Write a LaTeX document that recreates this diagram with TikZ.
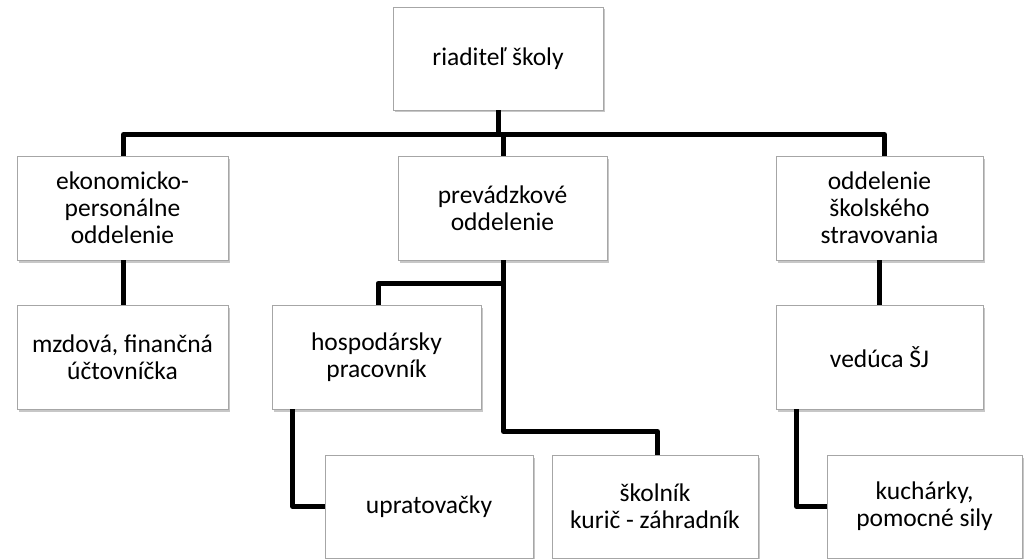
\documentclass[tikz,border=0pt]{standalone}
\usepackage{fontspec}
\setmainfont{Carlito}
\usetikzlibrary{shadows}
\definecolor{boxline}{HTML}{A6A6A6}
\tikzset{
  box/.style={draw=boxline, line width=0.8pt, fill=white, align=center,
    inner sep=0pt, font=\fontsize{25.5}{27}\selectfont,
    drop shadow={shadow xshift=1.5pt, shadow yshift=-2.5pt, fill=black, opacity=0.22}},
  conn/.style={line width=5pt, black, line join=round}
}
\begin{document}
\begin{tikzpicture}[x=1pt,y=-1pt]
\useasboundingbox (0,0) rectangle (1030,559);
% nodes
\node[box, minimum width=210pt, minimum height=103pt] (top) at (498,58.5) {riaditeľ školy};
\node[box, minimum width=211pt, minimum height=104pt] (eko) at (122.5,208) {ekonomicko-\\personálne\\oddelenie};
\node[box, minimum width=209pt, minimum height=104pt] (prev) at (502.5,208) {prevádzkové\\oddelenie};
\node[box, minimum width=207pt, minimum height=104pt] (odd) at (879.5,208) {oddelenie\\školského\\stravovania};
\node[box, minimum width=211pt, minimum height=104pt] (mzd) at (122.5,357) {mzdová, finančná\\účtovníčka};
\node[box, minimum width=209pt, minimum height=104pt] (hosp) at (376.5,357) {hospodársky\\pracovník};
\node[box, minimum width=207pt, minimum height=104pt] (ved) at (879.5,357) {vedúca ŠJ};
\node[box, minimum width=208pt, minimum height=103pt] (uprat) at (429,506.5) {upratovačky};
\node[box, minimum width=206pt, minimum height=103pt] (skol) at (655,506.5) {školník\\kurič - záhradník};
\node[box, minimum width=195pt, minimum height=103pt] (kuch) at (924.5,506.5) {kuchárky,\\pomocné sily};
% junction coordinates
\coordinate (barL) at (123.5,134.5);
\coordinate (barR) at (884.5,134.5);
\coordinate (prevJ) at (503.5,283.5);
\coordinate (skolJ) at (503.5,431.5);
% connectors
\draw[conn] (top.south) -- (top.south |- barL);
\draw[conn] (eko.north -| barL) -- (barL) -- (barR) -- (barR |- odd.north);
\draw[conn] (prev.north -| prevJ) -- (prevJ |- barL);
\draw[conn] (prev.south -| prevJ) -- (skolJ) -| ([xshift=2.5pt]skol.north);
\draw[conn] (prevJ) -| ([xshift=1.5pt]hosp.north);
\draw[conn] (eko.south -| barL) -- (mzd.north -| barL);
\draw[conn] (odd.south) -- (ved.north);
\draw[conn] ([xshift=21pt]hosp.south west) |- (uprat.west);
\draw[conn] ([xshift=21pt]ved.south west) |- (kuch.west);
\end{tikzpicture}
\end{document}
